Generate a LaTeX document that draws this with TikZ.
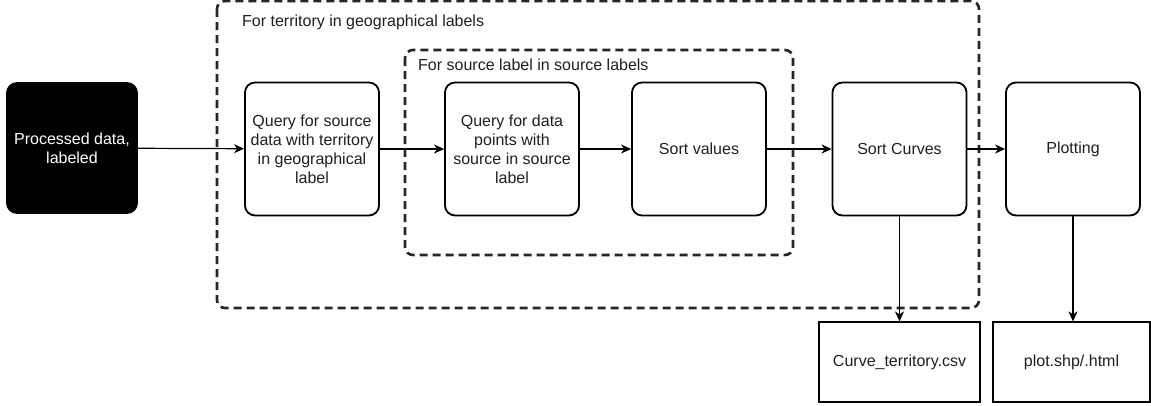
\documentclass[tikz,border=0pt]{standalone}
\usepackage{fontspec}
\setmainfont{Liberation Sans}
\usetikzlibrary{arrows.meta}
\begin{document}
\begin{tikzpicture}[x=1pt,y=-1pt,
  txt/.style={font=\fontsize{16}{19}\selectfont, align=center, text=black!88},
  stepbox/.style={txt, draw, line width=1.8pt, rounded corners=10pt,
    minimum width=134pt, minimum height=133pt, inner sep=2pt},
  srcbox/.style={stepbox, fill=black, text=white, minimum width=130pt, minimum height=130pt},
  filebox/.style={txt, draw, line width=1.2pt, inner sep=0pt},
  loopframe/.style={draw=black!85, line width=2.6pt, dash pattern=on 8pt off 5pt, rounded corners=8pt},
  flow/.style={line width=1.2pt, -{Stealth[length=10pt,width=9pt,inset=3pt]}},
  looptitle/.style={txt, anchor=west, inner sep=0pt}]
\useasboundingbox (0,0) rectangle (1151,405);

% loop frames
\draw[loopframe] (217,1) rectangle (979,308);
\draw[loopframe] (405,50) rectangle (793,255);
\node[looptitle] (outertitle) at (242,22) {For territory in geographical labels};
\node[looptitle] (innertitle) at (418,65) {For source label in source labels};

% processing steps
\node[srcbox] (data) at (72,148) {Processed data,\\labeled};
\node[stepbox] (qterr) at (312,149) {Query for source\\data with territory\\in geographical\\label};
\node[stepbox] (qsrc) at (512,149) {Query for data\\points with\\source in source\\label};
\node[stepbox] (sortv) at (699,149) {Sort values};
\node[stepbox] (sortc) at (899.5,149) {Sort Curves};
\node[stepbox] (plot) at (1073,149) {Plotting};

% output files
\node[filebox, minimum width=161pt, minimum height=80pt] (csv) at (899.5,362) {Curve\_territory.csv};
\node[filebox, minimum width=157pt, minimum height=80pt] (html) at (1071.5,362) {plot.shp/.html};

% connectors
\draw[flow] (data) -- (qterr);
\draw[flow] (qterr) -- (qsrc);
\draw[flow] (qsrc) -- (sortv);
\draw[flow] (sortv) -- (sortc);
\draw[flow] (sortc) -- (plot);
\draw[flow] (sortc.south) -- (csv.north);
\draw[flow] (plot.south) -- (plot.south |- html.north);
\end{tikzpicture}
\end{document}
